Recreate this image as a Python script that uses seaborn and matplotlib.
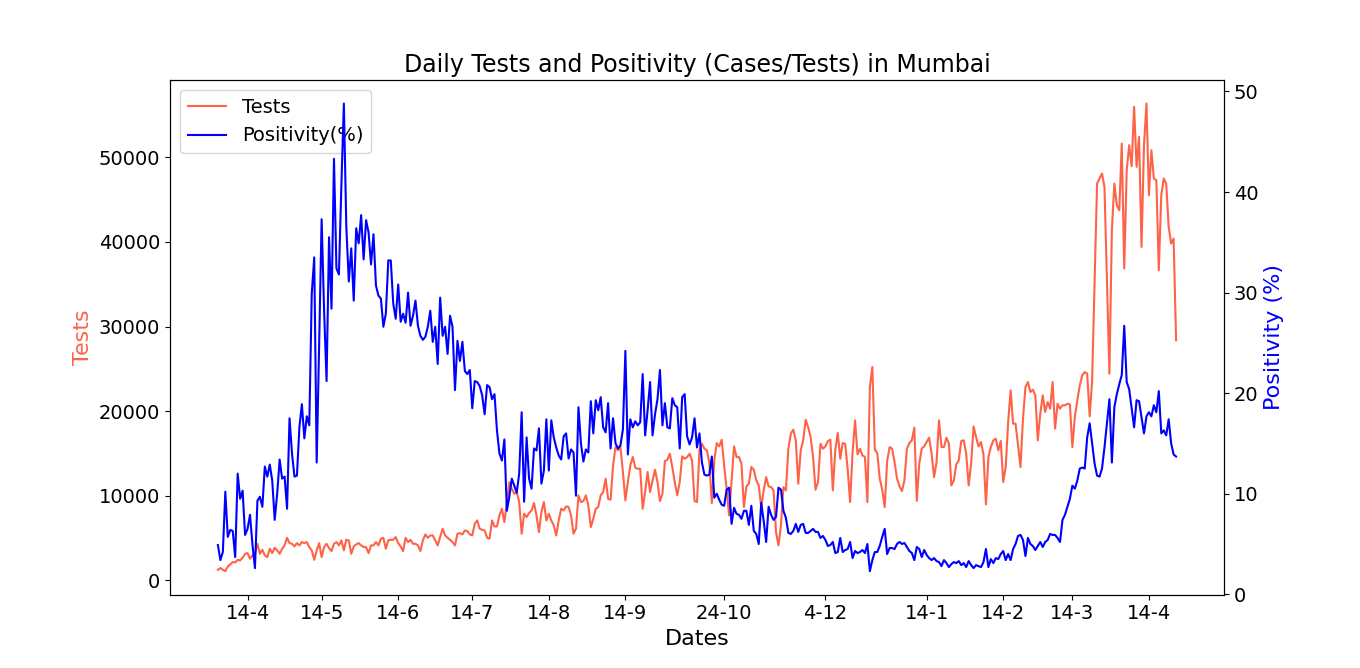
import numpy as np
import pandas as pd
import seaborn as sns
import matplotlib.pyplot as plt

start_date = "2020-04-02"

# daily tests
tests = [
    1260, 1460, 1260, 1100, 1650, 1890, 2170, 2130, 2440, 2360,
    2680, 3150, 3230, 2560, 2960, 3150, 4330, 3150, 3620, 2960,
    2760, 3740, 3230, 3860, 3550, 3150, 3740, 4140, 5040, 4410,
    4330, 4020, 4410, 4140, 4530, 4410, 4530, 3940, 3550, 2440,
    3550, 4410, 2760, 3940, 4330, 3820, 3470, 4330, 4530, 4140,
    4730, 3550, 4810, 4730, 3150, 4020, 4260, 4410, 4140, 3940,
    3940, 3230, 4140, 4140, 4530, 4140, 4930, 5040, 3740, 4730,
    4810,
    4800, 5120, 4410, 4020, 3470, 5040, 4530, 4800, 4330, 4330,
    4140, 3470, 4730, 5440, 5040, 5320, 5320, 4730, 4140, 5120,
    6110, 5320, 5040, 4800, 4530, 4140, 5520, 5590, 5440, 5910,
    5830, 5440, 5320, 6700, 7090, 6110, 5990, 5910, 5040, 4930,
    7090, 6380, 6380, 7680, 8470, 6900, 9140, 11620, 10840, 10240,
    10440, 9260, 5520, 7880, 7490, 7960, 8270, 9140, 7680, 5710,
    8080, 9260, 7090, 7880, 7090, 6500, 5320, 7090, 8470, 8270,
    8750,
    8670, 7680, 5520, 6110, 10050, 9260, 9380, 10050, 8870, 6300,
    7290, 8470, 8670, 10050, 10440, 12020, 9650, 9530, 13590, 15760,
    15370, 15760, 12810, 9460, 11620, 13590, 14580, 13320, 13200, 13200,
    8470, 10440, 12810, 10440, 11820, 13080, 11620, 9380, 10240, 14110,
    14260, 14970, 13400, 11620, 10050, 11620, 14660, 14380, 14580, 14970,
    14180, 9380, 9260, 15440, 16150, 15560, 15370, 13870, 9140, 14180,
    16230, 15840, 16630, 13590, 10840, 7680, 11820, 15840, 14580, 14580,
    13790,
    8670, 11110, 11430, 13400, 13080, 11820, 11230, 8670, 10640, 12210,
    11110, 11030, 10640, 5710, 4140, 6500, 11030, 10640, 15560, 17340,
    17810, 16550, 11430, 15370, 16550, 18990, 18120, 16940, 14580, 10720,
    11620, 16150, 15560, 15840, 16470, 16630, 10640, 15440, 17410, 14380,
    16230, 16150, 13200, 9260, 15170, 18910, 14890, 15560, 14780, 14580,
    9260, 22850, 25220, 15440, 15050, 12020, 10720, 8670, 14110, 15760,
    15560, 13990, 12020, 11110, 10560, 11820, 15560, 16230, 16550, 18050,
    9400,
    13790, 15560, 15840, 16350, 16860, 14970, 12210, 13990, 18910, 15760,
    15760, 16860, 16150, 11230, 11820, 13710, 14180, 16470, 16550, 14970,
    11230, 13790, 18200, 16940, 15840, 16350, 14890, 8980, 14580, 15760,
    16550, 16750, 15370, 16470, 11620, 13400, 18720, 22460, 18520, 18520,
    15960, 13400, 19110, 22850, 23440, 22260, 22540, 21870, 16550, 19700,
    21870, 19900, 21080, 20290, 23440, 17930, 20880, 20290,
    20690, 20690, 20880, 20800, 15760, 19310, 21280, 23050, 24230, 24620,
    24430, 19380, 23640, 35460, 46890, 47480, 48070, 46490, 35460, 24430,
    41370, 46890, 44330, 43730, 51610, 36840, 48460, 51420, 48930, 55950,
    48860, 52400, 39400, 51420, 56340, 45510, 50830, 47480, 47280, 36640,
    45510, 47480, 46890, 41760, 39790, 40390, 28370,
]

# daily positivity in percent
positivity = [
    4.9, 3.4, 4.2, 10.2, 5.7, 6.4, 6.3, 3.7, 12.0, 9.5,
    10.3, 5.9, 6.5, 7.9, 4.9, 2.6, 9.3, 9.7, 8.7, 12.7,
    11.7, 12.9, 11.3, 7.4, 10.0, 13.4, 11.5, 11.7, 8.5, 17.5,
    14.0, 11.7, 11.8, 16.6, 18.9, 15.5, 17.7, 16.8, 29.9, 33.5,
    13.1, 24.9, 37.3, 28.2, 21.2, 35.5, 28.4, 43.3, 32.4, 31.8,
    40.7, 48.8, 36.5, 31.1, 34.4, 29.2, 36.4, 34.9, 37.7, 33.3,
    37.2, 36.0, 32.8, 35.8, 30.7, 29.7, 29.4, 26.6, 27.9, 33.2,
    33.2,
    28.9, 27.4, 30.8, 27.1, 27.9, 27.0, 30.0, 26.7, 27.7, 29.2,
    26.7, 25.7, 25.3, 25.6, 26.6, 28.2, 25.1, 26.6, 22.9, 29.5,
    25.7, 26.6, 23.9, 27.7, 26.6, 20.3, 25.2, 23.2, 25.1, 22.2,
    21.9, 22.3, 18.5, 21.2, 21.1, 20.7, 19.8, 17.9, 20.8, 20.6,
    19.4, 19.9, 16.3, 14.0, 13.3, 15.4, 8.3, 9.7, 11.5, 10.8,
    10.1, 12.0, 18.1, 9.2, 15.6, 11.5, 10.5, 14.5, 14.3, 16.5,
    11.0, 12.3, 17.4, 12.3, 17.3, 15.6, 14.6, 13.8, 13.4, 15.7,
    16.0,
    13.5, 14.4, 14.1, 9.8, 18.6, 15.0, 13.2, 14.4, 14.1, 19.2,
    16.0, 19.3, 18.3, 19.6, 16.6, 16.1, 19.0, 14.5, 17.5, 15.0,
    14.5, 14.8, 16.4, 24.2, 13.9, 17.4, 16.6, 17.2, 16.8, 17.1,
    21.9, 15.8, 18.3, 21.1, 15.8, 17.9, 19.4, 22.3, 16.8, 19.0,
    16.6, 16.5, 19.5, 18.8, 18.6, 14.5, 19.6, 19.9, 15.7, 14.9,
    15.6, 17.5, 14.6, 16.0, 13.1, 11.9, 11.8, 11.9, 13.7, 9.6,
    10.0, 9.4, 8.9, 8.8, 10.4, 10.6, 7.0, 8.6, 8.0, 7.9,
    7.5,
    8.3, 8.3, 6.9, 8.8, 6.3, 6.0, 5.0, 9.1, 7.3, 5.2,
    8.7, 7.9, 7.4, 7.7, 10.6, 10.4, 8.3, 7.6, 6.1, 6.0,
    6.3, 7.0, 6.2, 6.9, 7.0, 6.1, 6.1, 6.3, 6.5, 6.2,
    6.2, 5.6, 5.8, 5.4, 4.8, 4.9, 5.2, 4.1, 4.2, 5.6,
    4.2, 4.4, 4.5, 5.2, 3.6, 4.3, 4.1, 4.2, 4.4, 4.1,
    5.0, 2.3, 3.4, 4.2, 4.2, 4.8, 5.7, 6.5, 4.0, 4.6,
    4.6, 4.5, 5.0, 5.2, 5.0, 5.1, 4.7, 4.3, 4.1, 3.4,
    4.7,
    4.5, 3.7, 4.4, 3.9, 3.6, 3.4, 3.6, 3.3, 3.2, 2.8,
    3.4, 3.1, 2.7, 3.0, 3.2, 3.1, 3.3, 2.9, 3.1, 2.7,
    3.3, 2.9, 2.6, 2.9, 2.8, 2.7, 3.2, 4.5, 2.7, 3.5,
    3.1, 3.6, 3.5, 4.0, 4.3, 3.4, 4.0, 3.4, 4.5, 5.0,
    5.8, 5.9, 5.4, 3.8, 5.6, 5.0, 4.8, 4.4, 4.8, 5.2,
    4.7, 5.2, 5.4, 6.0, 5.9, 5.9, 5.6, 5.2,
    7.4, 7.9, 8.7, 9.5, 10.8, 10.5, 11.3, 12.5, 12.6, 12.5,
    15.6, 17.0, 15.0, 13.0, 11.8, 11.7, 12.5, 14.6, 17.0, 19.4,
    13.1, 18.6, 19.9, 20.9, 21.8, 26.7, 21.1, 20.4, 18.5, 16.6,
    19.3, 19.2, 17.6, 16.0, 17.7, 18.1, 17.7, 18.8, 18.1, 20.2,
    16.0, 16.3, 15.8, 17.4, 15.0, 13.9, 13.7,
]

tick_dates = ["2020-04-14", "2020-05-14", "2020-06-14", "2020-07-14",
              "2020-08-14", "2020-09-14", "2020-10-24", "2020-12-04",
              "2021-01-14", "2021-02-14", "2021-03-14", "2021-04-14"]

df = pd.DataFrame({
    "date": pd.date_range(start_date, periods=len(tests), freq="D"),
    "tests": tests,
    "positivity": positivity,
})

fig, ax = plt.subplots(figsize=(13.6, 6.68), dpi=100)
ax2 = ax.twinx()

sns.lineplot(data=df, x="date", y="tests", color="tomato", ax=ax, label="Tests", legend=False)
sns.lineplot(data=df, x="date", y="positivity", color="blue", ax=ax2, label="Positivity(%)", legend=False)

# day-month tick labels without leading zeros
ticks = pd.to_datetime(tick_dates)
ax.set_xticks(ticks)
ax.set_xticklabels([f"{t.day}-{t.month}" for t in ticks])

ax.set_xlabel("Dates", fontsize=16)
ax.set_ylabel("Tests", fontsize=16, color="tomato")
ax2.set_ylabel("Positivity (%)", fontsize=16, color="blue")
ax.set_title("Daily Tests and Positivity (Cases/Tests) in Mumbai", fontsize=17)
ax.tick_params(labelsize=14)
ax2.tick_params(labelsize=14)

h1, l1 = ax.get_legend_handles_labels()
h2, l2 = ax2.get_legend_handles_labels()
ax.legend(h1 + h2, l1 + l2, loc="upper left", fontsize=14)

plt.savefig("out.png")
